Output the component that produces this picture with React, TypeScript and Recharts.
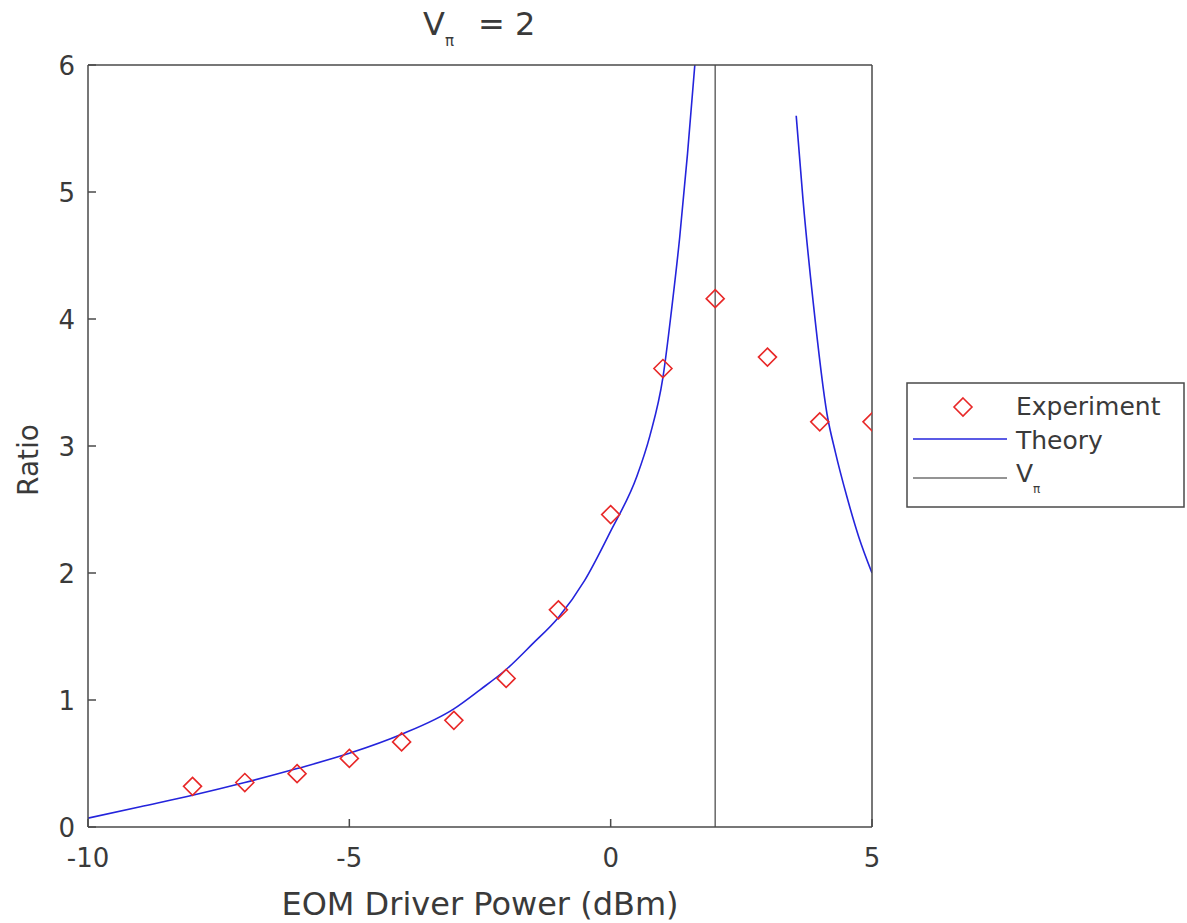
import { ComposedChart, Line, Scatter, XAxis, YAxis, ReferenceLine } from "recharts";

const xTicks = [-10, -5, 0, 5];
const yTicks = [0, 1, 2, 3, 4, 5, 6];
const vPi = 2;

// measured points (red diamonds)
const expX = [-8, -7, -6, -5, -4, -3, -2, -1, 0, 1, 2, 3, 4, 5];
const expY = [0.32, 0.35, 0.42, 0.54, 0.67, 0.84, 1.17, 1.71, 2.46, 3.61, 4.16, 3.7, 3.19, 3.19];

// theory curve (two branches around the pole)
const leftX = [-10, -9, -8, -7, -6, -5, -4, -3, -2.5, -2, -1.5, -1, -0.5, 0, 0.5, 0.75, 1, 1.17, 1.32, 1.47, 1.61];
const leftY = [0.07, 0.16, 0.25, 0.35, 0.46, 0.58, 0.73, 0.93, 1.08, 1.24, 1.44, 1.65, 1.94, 2.33, 2.76, 3.08, 3.54, 4.09, 4.64, 5.3, 6.0];
const rightX = [3.55, 3.68, 3.87, 4.14, 4.3, 4.52, 4.75, 5.0];
const rightY = [5.6, 4.94, 4.15, 3.25, 2.95, 2.6, 2.28, 2.0];

const experiment = expX.map((x, i) => ({ x, y: expY[i] }));
const theoryLeft = leftX.map((x, i) => ({ x, y: leftY[i] }));
const theoryRight = rightX.map((x, i) => ({ x, y: rightY[i] }));

const FONT = "'DejaVu Sans', sans-serif";
const FRAME = "#4a4a4a";
const TEXT = "#3a3a3a";
const BLUE = "#2424dc";
const RED = "#e82828";
const GRAY = "#707070";
const TICK = 8;

function Diamond({ cx, cy }: any) {
  const r = 9;
  return (
    <path
      d={`M${cx},${cy - r} L${cx + r},${cy} L${cx},${cy + r} L${cx - r},${cy} Z`}
      fill="none"
      stroke={RED}
      strokeWidth={1.6}
    />
  );
}

function BottomTick({ x, y, payload }: any) {
  return (
    <g>
      <line x1={x} y1={y} x2={x} y2={y - TICK} stroke={FRAME} strokeWidth={1.5} />
      <text x={x} y={y + 40} textAnchor="middle" fontSize={26} fill={TEXT} fontFamily={FONT}>
        {payload.value}
      </text>
    </g>
  );
}

function LeftTick({ x, y, payload }: any) {
  return (
    <g>
      <line x1={x} y1={y} x2={x + TICK} y2={y} stroke={FRAME} strokeWidth={1.5} />
      <text x={x - 13} y={y + 9.5} textAnchor="end" fontSize={26} fill={TEXT} fontFamily={FONT}>
        {payload.value}
      </text>
    </g>
  );
}

function TopTick({ x, y }: any) {
  return <line x1={x} y1={y} x2={x} y2={y + TICK} stroke={FRAME} strokeWidth={1.5} />;
}

function RightTick({ x, y }: any) {
  return <line x1={x} y1={y} x2={x - TICK} y2={y} stroke={FRAME} strokeWidth={1.5} />;
}

function Legend() {
  return (
    <svg
      width={280}
      height={127}
      style={{ position: "absolute", left: 906, top: 382 }}
      fontFamily={FONT}
    >
      <rect x={1} y={1} width={277} height={124} fill="#fff" stroke={FRAME} strokeWidth={1.5} />
      <Diamond cx={57} cy={25} />
      <text x={110} y={33} fontSize={25} fill={TEXT}>Experiment</text>
      <line x1={7} y1={57} x2={101} y2={57} stroke={BLUE} strokeWidth={1.6} />
      <text x={110} y={67} fontSize={25} fill={TEXT}>Theory</text>
      <line x1={7} y1={96} x2={101} y2={96} stroke={GRAY} strokeWidth={1.6} />
      <text x={110} y={100} fontSize={25} fill={TEXT}>
        V<tspan fontSize={12} dy={11}>π</tspan>
      </text>
    </svg>
  );
}

export default function App() {
  return (
    <div style={{ position: "absolute", left: 0, top: 0, width: 1187, height: 923, background: "#fff" }}>
      <ComposedChart width={1187} height={923} margin={{ top: 64, right: 314, bottom: 6, left: 18 }}>
        <XAxis
          xAxisId="x"
          type="number"
          dataKey="x"
          domain={[-10, 5]}
          ticks={xTicks}
          interval={0}
          allowDataOverflow
          height={90}
          tickLine={false}
          tickSize={0}
          tickMargin={0}
          axisLine={{ stroke: FRAME, strokeWidth: 1.5 }}
          tick={<BottomTick />}
        />
        <XAxis
          xAxisId="top"
          orientation="top"
          type="number"
          domain={[-10, 5]}
          ticks={xTicks}
          interval={0}
          height={1}
          tickLine={false}
          tickSize={0}
          tickMargin={0}
          axisLine={{ stroke: FRAME, strokeWidth: 1.5 }}
          tick={<TopTick />}
        />
        <YAxis
          yAxisId="y"
          type="number"
          domain={[0, 6]}
          ticks={yTicks}
          interval={0}
          allowDataOverflow
          width={70}
          tickLine={false}
          tickSize={0}
          tickMargin={0}
          axisLine={{ stroke: FRAME, strokeWidth: 1.5 }}
          tick={<LeftTick />}
        />
        <YAxis
          yAxisId="right"
          orientation="right"
          type="number"
          domain={[0, 6]}
          ticks={yTicks}
          interval={0}
          width={1}
          tickLine={false}
          tickSize={0}
          tickMargin={0}
          axisLine={{ stroke: FRAME, strokeWidth: 1.5 }}
          tick={<RightTick />}
        />
        <ReferenceLine xAxisId="x" yAxisId="y" x={vPi} stroke={GRAY} strokeWidth={1.6} />
        <Line
          xAxisId="x"
          yAxisId="y"
          data={theoryLeft}
          dataKey="y"
          type="monotone"
          stroke={BLUE}
          strokeWidth={1.6}
          dot={false}
          isAnimationActive={false}
        />
        <Line
          xAxisId="x"
          yAxisId="y"
          data={theoryRight}
          dataKey="y"
          type="monotone"
          stroke={BLUE}
          strokeWidth={1.6}
          dot={false}
          isAnimationActive={false}
        />
        <Scatter
          xAxisId="x"
          yAxisId="y"
          data={experiment}
          dataKey="y"
          shape={<Diamond />}
          isAnimationActive={false}
        />
      </ComposedChart>

      <svg
        width={1187}
        height={923}
        style={{ position: "absolute", left: 0, top: 0, pointerEvents: "none" }}
        fontFamily={FONT}
        fill={TEXT}
      >
        <text x={423} y={35} fontSize={32}>
          V<tspan fontSize={15} dy={11}>π</tspan>
          <tspan x={478} dy={-11}>= 2</tspan>
        </text>
        <text x={480} y={915} textAnchor="middle" fontSize={32}>
          EOM Driver Power (dBm)
        </text>
        <text transform="translate(38,460) rotate(-90)" textAnchor="middle" fontSize={28}>
          Ratio
        </text>
      </svg>

      <Legend />
    </div>
  );
}
